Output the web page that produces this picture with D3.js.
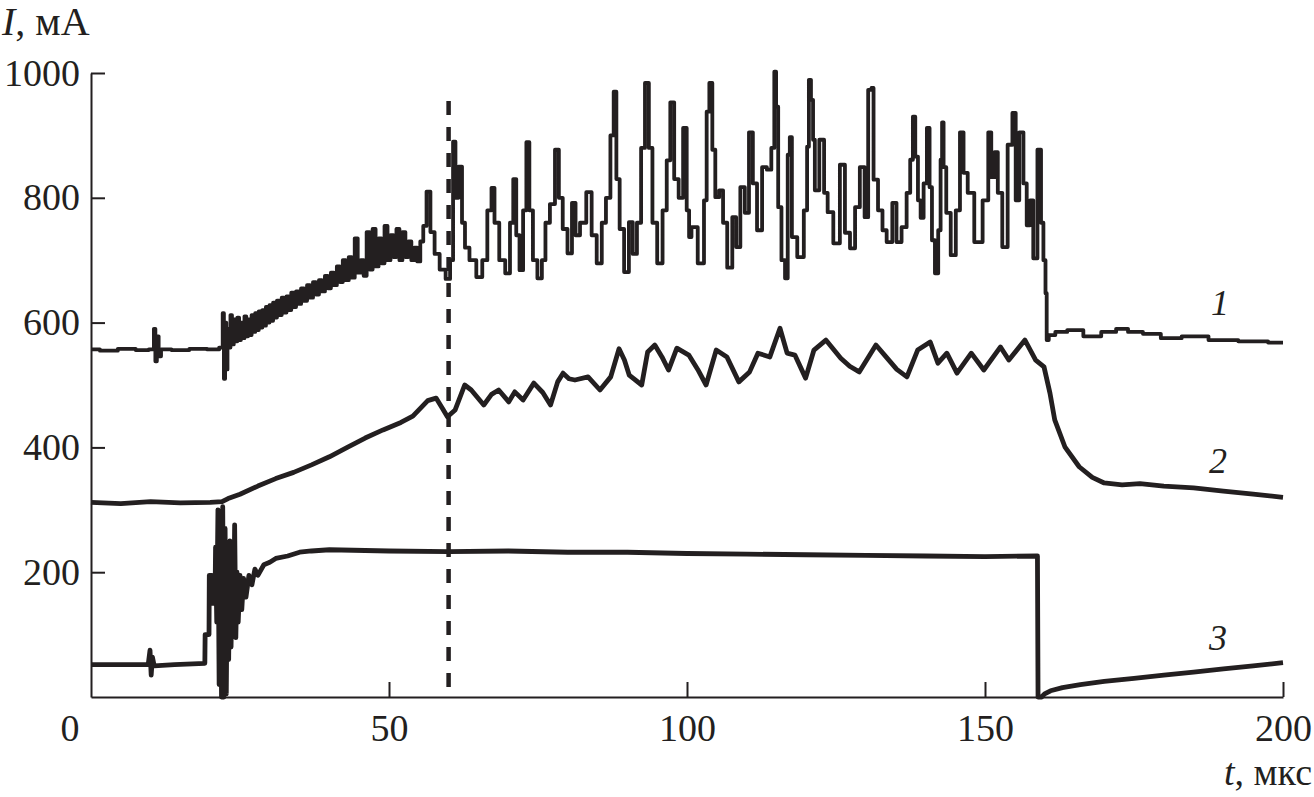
<!DOCTYPE html>
<html>
<head>
<meta charset="utf-8">
<script src="https://cdn.jsdelivr.net/npm/d3@7"></script>
<style>
	body { margin:0; background:#fff; }
	text { font-family:"Liberation Serif","Times New Roman",serif; fill:#231f20; }
</style>
</head>
<body>
<svg id="svg" width="1314" height="797"></svg>
<script>

	// ticks
	var xTicks = [50, 100, 150, 200];
	var yTicks = [200, 400, 600, 800, 1000];

	// curve 1: [t (mks), I (mA)]
	var curve1 = [
		[0,557],[3,555],[6,558],[9,556],[10.4,557],[10.7,590],[10.9,538],[11.2,578],[11.5,546],[12,557],[15,556],[18,558],[21,557],
		[22,560],[22.2,615],[22.4,510],[22.6,600],[22.8,525],[23,590],[23.3,560],[23.5,612],[23.8,565],[24.1,605],[24.4,570],
		[24.7,608],[25,572],[25.3,600],[25.6,575],[25.9,610],[26.2,578],[26.5,605],[26.8,580],[27.1,612],[27.4,585],[27.7,615],
		[28,588],[28.3,618],[28.6,592],[28.9,620],[29.2,595],[29.5,625],[29.8,600],[30.1,628],[30.4,603],[30.7,632],[31,608],
		[31.4,635],[31.8,612],[32.2,640],[32.6,616],[33,642],[33.4,620],[33.8,648],[34.2,625],[34.6,650],[35,630],[35.5,655],
		[36,635],[36.5,660],[37,640],[37.5,665],[38,645],[38.5,668],[39,650],[39.5,675],[40,655],[40.5,680],[41,660],[41.5,690],
		[42,665],[42.5,700],[43,668],[43.5,705],[44,672],[44.5,735],[45,680],[45.5,700],[46,675],[46.5,745],[47,685],[47.5,750],
		[48,690],[48.5,735],[49,695],[49.5,755],[50,700],[50.5,740],[51,705],[51.5,750],[52,700],[52.5,745],[53,705],[53.5,730],
		[54,700],[54.5,720],[55,698],[55.5,730],[56,755],[56.6,810],[57.3,745],[58,710],
		[59,685],[60,670],[60.5,700],[61,890],[61.3,800],[62,850],[62.5,760],[63,720],[64,700],[65.3,673],[66,700],[67,780],
		[67.4,816],[68,760],[69,700],[70,679],[70.6,760],[71.1,830],[71.6,740],[72.2,684],[72.8,780],[73.3,889],[73.8,780],
		[74.5,700],[75.3,671],[76,700],[76.5,760],[77.5,790],[78.2,877],[78.8,800],[79.5,750],[80.4,711],[81,792],[81.6,740],
		[82.5,760],[83.7,809],[84.3,740],[85.4,695],[86,760],[86.8,800],[87.5,900],[87.9,970],[88.4,830],[89,750],[89.9,681],
		[90.6,761],[91.2,710],[92,760],[92.6,880],[93.3,984],[93.9,880],[94.5,760],[95.5,695],[96.3,780],[96.9,860],[97.5,953],
		[98.2,830],[99,800],[99.7,912],[100.2,780],[100.5,737],[101,753],[102.6,695],[103.1,796],[103.5,938],[104,984],
		[104.5,877],[105,801],[105.8,812],[106.3,760],[107.2,688],[108,769],[108.5,721],[109.4,817],[110,776],[110.8,905],
		[111.3,823],[112.2,748],[113,849],[113.8,845],[114.5,880],[114.8,1002],[115.1,946],[115.5,785],[116.2,700],[116.7,671],
		[117.1,869],[117.4,897],[117.8,737],[119.2,705],[120,780],[120.3,882],[120.6,989],[121,957],[121.3,893],[121.6,812],
		[122.8,893],[123.2,808],[124,777],[125.1,727],[126.2,853],[126.8,744],[127.9,719],[128.5,785],[129.5,849],[130.1,769],
		[130.7,973],[131.2,976],[131.4,829],[132.7,780],[132.9,748],[134.1,729],[134.8,792],[135.5,729],[136.5,753],[137.2,808],
		[137.7,861],[138.1,930],[138.5,866],[139,796],[139.4,768],[140,823],[140.5,912],[140.9,817],[141.3,732],[141.9,679],
		[142.4,748],[142.7,861],[142.9,921],[143.2,849],[143.8,776],[144.7,708],[145.5,780],[146.1,905],[146.7,840],[147.5,808],
		[148.9,729],[150.3,796],[150.8,905],[151.3,833],[151.9,873],[152.4,808],[153.4,721],[154.2,885],[155,936],[155.3,796],
		[156.2,905],[156.7,823],[157.3,756],[157.8,796],[158.4,703],[159.2,877],[159.6,760],[160,700],[160.3,647],[160.4,572],
		[161,580],[162.6,585],[165,588],[168,578],[171,585],[173,590],[175,585],[178,582],[181,575],[185,578],[190,572],
		[195,570],[200,568]
	];

	// curve 2
	var curve2 = [
		[0,312],[5,310],[10,313],[15,311],[20,312],[22,313],[23,318],[25,325],[28,338],[31,350],[34,360],[37,372],[40,385],
		[43,400],[46,415],[49,428],[52,440],[54,450],[55.5,465],[56.5,475],[57.9,479],[59,462],[59.8,449],[61.1,460],
		[62.7,500],[63.8,492],[65.9,468],[67.2,485],[68.4,492],[70.1,473],[71.1,489],[72.5,476],[74.3,503],[75.8,488],[77.1,468],
		[78.3,505],[79.2,519],[80.2,510],[81.2,508],[83.4,513],[85.4,492],[87.2,513],[88.6,558],[89.5,540],[90.3,516],[92.4,500],
		[93.4,553],[94.6,564],[95.8,545],[96.9,524],[98.3,559],[100.3,548],[101.8,525],[103.2,500],[104.9,556],[106.7,545],
		[108.7,505],[110.5,521],[111.9,551],[113.9,545],[115.6,591],[116.8,551],[118.1,548],[119.9,511],[121.3,556],[123.3,572],
		[125.8,543],[127.3,530],[128.9,521],[131.7,564],[133.4,545],[135.2,525],[136.9,513],[138.7,556],[140.8,569],[142.1,535],
		[143.6,551],[145.3,519],[147.7,551],[149.8,524],[152.6,561],[154,540],[156.7,572],[158.5,540],[159.9,529],[160.9,487],
		[161.7,444],[163.4,401],[165.8,369],[168,352],[170,343],[173,340],[176,342],[180,338],[185,335],[190,330],[195,325],
		[200,320]
	];

	// curve 3
	var curve3 = [
		[0,52],[5,52],[9.6,52],[9.9,75],[10.1,35],[10.3,64],[10.6,50],[14,52],[19.1,54],[19.15,100],[19.8,100],[19.85,195],
		[20.3,195],[20.35,150],[20.8,150],[20.9,240],[21.1,120],[21.3,300],[21.5,20],[21.7,290],[21.9,0],[22.1,305],[22.3,0],
		[22.5,270],[22.7,5],[22.9,230],[23.1,60],[23.3,250],[23.5,80],[23.7,200],[23.9,100],[24.1,276],[24.3,95],[24.5,200],
		[24.7,120],[25,195],[25.3,140],[25.6,190],[26,160],[26.5,195],[27,180],[27.5,205],[28,195],[29,212],[30,216],[31,222],
		[33,226],[35,232],[37,234],[40,236],[50,234],[60,233],[70,234],[80,232],[90,232],[100,230],[110,229],[120,228],
		[130,227],[140,226],[150,225],[158.8,226],[158.9,0],[159.5,0],[160,5],[161,10],[163,15],[166,20],[170,25],[175,30],
		[180,35],[185,40],[190,45],[195,50],[200,55]
	];

	// dashed marker line
	var markerT = 60, markerTop = 955;

	var svg = d3.select("#svg"),
		margin = { left:91, right:31, top:73, bottom:100 },
		wsvg = +svg.attr("width"),
		hsvg = +svg.attr("height");

	var x = d3.scaleLinear().domain([0, 200]).range([margin.left, wsvg - margin.right]);
	var y = d3.scaleLinear().domain([0, 1000]).range([hsvg - margin.bottom, margin.top]);

	var ink = "#231f20";

	// axes (ticks point inward)
	var gx = svg.append("g")
		.attr("transform", "translate(0," + y(0) + ")")
		.call(d3.axisBottom(x).tickValues(xTicks).tickFormat(d3.format("d"))
			.tickSizeInner(-15).tickSizeOuter(0).tickPadding(17));
	var gy = svg.append("g")
		.attr("transform", "translate(" + x(0) + ",0)")
		.call(d3.axisLeft(y).tickValues(yTicks).tickFormat(d3.format("d"))
			.tickSizeInner(-14).tickSizeOuter(0).tickPadding(11));

	[gx, gy].forEach(function(g){
		g.selectAll("path, line").attr("stroke", ink).attr("stroke-width", 2);
		g.selectAll("text").attr("font-size", 38).attr("fill", ink)
			.style("font-family", "'Liberation Serif','Times New Roman',serif");
	});

	// origin label sits left of the axis
	svg.append("text")
		.attr("x", x(0) - 21)
		.attr("y", y(0) + 44)
		.attr("text-anchor", "middle")
		.attr("font-size", 38)
		.text("0");

	// curves: 1 is a sampled (stepped) trace, 2 and 3 are thick noisy bands
	var lineStep = d3.line().x(d=>x(d[0])).y(d=>y(d[1])).curve(d3.curveStep);
	var lineLin = d3.line().x(d=>x(d[0])).y(d=>y(d[1]));
	var curves = [[curve1, lineStep, 3.8], [curve2, lineLin, 4.8], [curve3, lineLin, 4.8]];
	curves.forEach(function(c){
		svg.append("path")
			.attr("d", c[1](c[0]))
			.attr("fill", "none")
			.attr("stroke", ink)
			.attr("stroke-width", c[2])
			.attr("stroke-linejoin", "round");
	});

	svg.append("line")
		.attr("x1", x(markerT)).attr("x2", x(markerT))
		.attr("y1", y(markerTop)).attr("y2", y(0))
		.attr("stroke", ink)
		.attr("stroke-width", 4.5)
		.attr("stroke-dasharray", "14,12");

	// axis titles
	var ty = svg.append("text").attr("x", 2).attr("y", 35).attr("font-size", 40);
	ty.append("tspan").attr("font-style", "italic").text("I");
	ty.append("tspan").text(", мА");

	var tx = svg.append("text").attr("x", 1312).attr("y", 785).attr("font-size", 38).attr("text-anchor", "end");
	tx.append("tspan").attr("font-style", "italic").text("t");
	tx.append("tspan").text(", мкс");

	// curve numbers
	var labels = [["1", 1220, 315], ["2", 1218, 473], ["3", 1218, 650]];
	svg.selectAll(".num").data(labels).enter().append("text")
		.classed("num", true)
		.attr("x", d=>d[1])
		.attr("y", d=>d[2])
		.attr("text-anchor", "middle")
		.attr("font-size", 36)
		.attr("font-style", "italic")
		.text(d=>d[0]);

</script>
</body>
</html>
